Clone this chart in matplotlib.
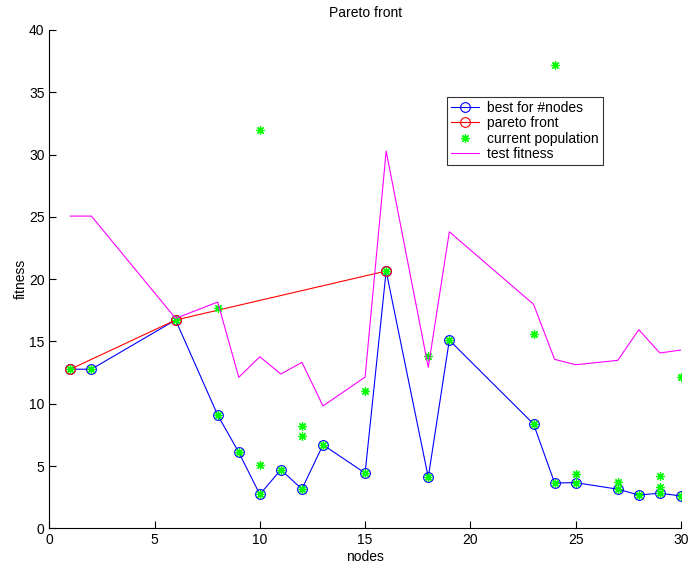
import matplotlib
matplotlib.use("Agg")
import matplotlib.pyplot as plt

# best for #nodes
best_x = [1, 2, 6, 8, 9, 10, 11, 12, 13, 15, 16, 18, 19, 23, 24, 25, 27, 28, 29, 30]
best_y = [12.77, 12.77, 16.72, 9.08, 6.1, 2.72, 4.7, 3.15, 6.7, 4.43, 20.65, 4.09, 15.1,
          8.37, 3.64, 3.66, 3.14, 2.67, 2.82, 2.59]

# pareto front
pareto_x = [1, 6, 16]
pareto_y = [12.77, 16.72, 20.65]

# current population (extra points beyond the best ones)
extra_x = [8, 10, 10, 12, 12, 15, 18, 23, 24, 25, 27, 29, 29, 30]
extra_y = [17.66, 5.1, 31.97, 8.24, 7.38, 11.05, 13.83, 15.57, 37.18, 4.36, 3.69, 4.2, 3.34, 12.12]
pop_x = best_x + extra_x
pop_y = best_y + extra_y

# test fitness
test_x = [1, 2, 6, 8, 9, 10, 11, 12, 13, 15, 16, 18, 19, 23, 24, 25, 27, 28, 29, 30]
test_y = [25.06, 25.06, 16.85, 18.16, 12.12, 13.77, 12.38, 13.32, 9.82, 12.14, 30.28,
          12.92, 23.8, 17.98, 13.56, 13.13, 13.48, 15.94, 14.07, 14.31]

plt.rcParams['font.family'] = ['Liberation Sans', 'DejaVu Sans']
fig = plt.figure(figsize=(6.92, 5.71), dpi=100)
ax = fig.add_axes([0.0712, 0.0748, 0.9128, 0.8727])

ax.plot(best_x, best_y, '-o', color='blue', mfc='none', mec='blue', ms=7, lw=0.8, mew=0.8,
        label='best for #nodes')
ax.plot(pareto_x, pareto_y, '-o', color='red', mfc='none', mec='red', ms=7, lw=0.8, mew=0.8,
        label='pareto front')
ax.plot(pop_x, pop_y, linestyle='none', marker=(8, 2, 0), color=(0, 1, 0), ms=6, mew=0.9,
        label='current population')
ax.plot(test_x, test_y, '-', color='magenta', lw=0.8, label='test fitness')

ax.set_xlim(0, 30)
ax.set_ylim(0, 40)
ax.set_xticks(range(0, 31, 5))
ax.set_yticks(range(0, 41, 5))
ax.spines['top'].set_visible(False)
ax.spines['right'].set_visible(False)
for s in ('left', 'bottom'):
    ax.spines[s].set_linewidth(0.8)
ax.tick_params(direction='in', length=5, width=0.8, labelsize=10)
ax.set_title('Pareto front', fontsize=10, pad=9.5)
ax.set_xlabel('nodes', fontsize=10, labelpad=2)
ax.set_ylabel('fitness', fontsize=10, labelpad=1)

leg = ax.legend(loc='upper left', bbox_to_anchor=(0.63, 0.866), fontsize=10, frameon=True,
                fancybox=False, edgecolor='black', borderpad=0.3, labelspacing=0.1,
                handlelength=2.0, handletextpad=0.6, borderaxespad=0)
leg.get_frame().set_linewidth(0.8)

fig.savefig('out.png', dpi=100)
